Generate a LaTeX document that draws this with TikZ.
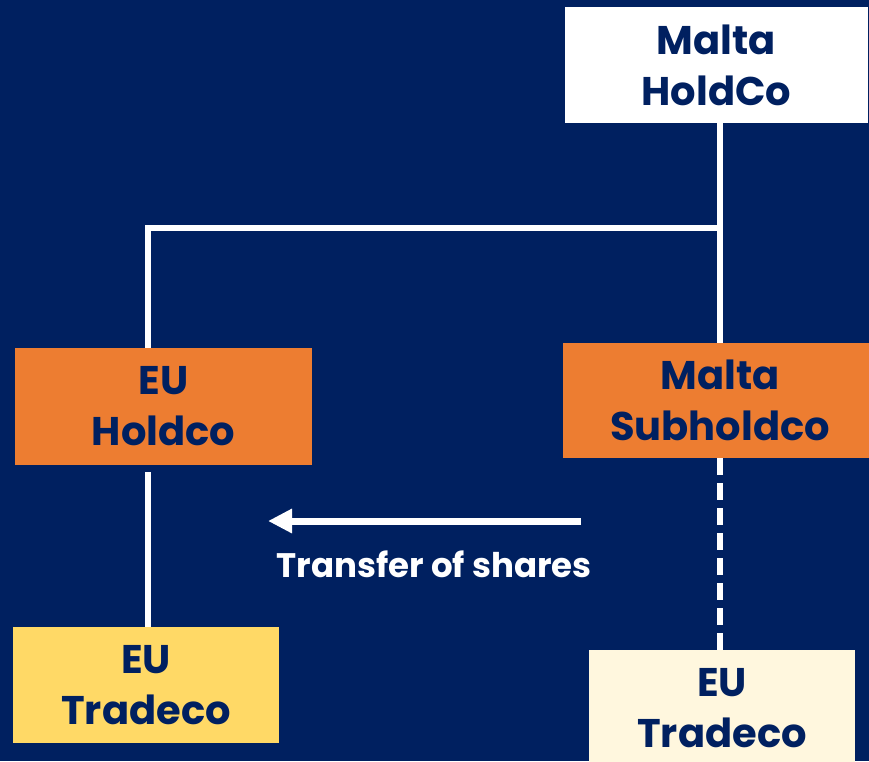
\documentclass[tikz,border=0pt]{standalone}
\usepackage{fontspec}
\setmainfont{Poppins}
\usetikzlibrary{arrows.meta,calc}
\definecolor{navy}{HTML}{002060}
\definecolor{orangebox}{HTML}{ED7D31}
\definecolor{yellowbox}{HTML}{FFD966}
\definecolor{palebox}{HTML}{FFF7DE}
\tikzset{
  entity/.style={rectangle, inner sep=0pt, align=center, text=navy,
    font=\fontsize{40}{51}\selectfont\bfseries},
  link/.style={draw=white, line width=5.5pt},
  dashlink/.style={draw=white, line width=5.5pt, dash pattern=on 17pt off 8pt},
  transfer/.style={draw=white, line width=7pt, -{Triangle[length=24pt,width=23pt]}},
  lbl/.style={text=white, font=\fontsize{34}{40}\selectfont\bfseries}
}
\begin{document}
\begin{tikzpicture}[x=1pt,y=-1pt]
\fill[navy] (0,0) rectangle (869,761);
\useasboundingbox (0,0) rectangle (869,761);
\node[entity, fill=white, minimum width=303pt, minimum height=116pt] (holdco) at (716.5,65) {Malta\\HoldCo};
\node[entity, fill=orangebox, minimum width=297pt, minimum height=117pt] (euhold) at (163.5,406.5) {EU\\Holdco};
\node[entity, fill=orangebox, minimum width=314pt, minimum height=115pt] (subhold) at (720,400.5) {Malta\\Subholdco};
\node[entity, fill=yellowbox, minimum width=266pt, minimum height=116pt] (tradeL) at (146,685) {EU\\Tradeco};
\node[entity, fill=palebox, minimum width=266pt, minimum height=116pt] (tradeR) at (722,708) {EU\\Tradeco};
\coordinate (j) at (720,228);
\coordinate (k) at (148,228);
\draw[link] (holdco.south -| j) -- (subhold.north -| j);
\draw[link, line cap=rect] (j) -- (k);
\draw[link] (k) -- (k |- euhold.north);
\draw[link] ($(euhold.south -| k)+(0,7)$) -- (tradeL.north -| k);
\draw[dashlink] (subhold.south -| j) -- (tradeR.north -| j);
\coordinate (a1) at (581,521);
\coordinate (a2) at (268,521);
\draw[transfer] (a1) -- (a2);
\node[lbl] (tlabel) at (434,564) {Transfer of shares};
\end{tikzpicture}
\end{document}
